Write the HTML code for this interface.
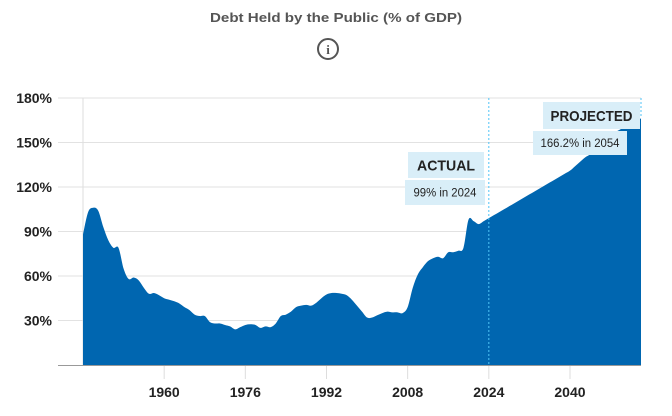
<!DOCTYPE html>
<html><head><meta charset="utf-8">
<style>
body{margin:0;background:#fff;width:672px;height:411px;overflow:hidden;font-family:"Liberation Sans Narrow","Liberation Sans",sans-serif;}
</style></head>
<body>
<svg width="672" height="411" xmlns="http://www.w3.org/2000/svg">
<text x="336" y="22" text-anchor="middle" font-size="13" font-weight="bold" fill="#555" textLength="252" lengthAdjust="spacingAndGlyphs">Debt Held by the Public (% of GDP)</text>
<g>
<circle cx="328" cy="49" r="10" fill="none" stroke="#555" stroke-width="2"/>
<text x="328" y="54" text-anchor="middle" font-size="13" font-weight="bold" fill="#555" font-family="Liberation Serif,serif">i</text>
</g>
<g id="grid"></g>
<g id="area"></g>
<g id="ann"></g>
<g id="xaxis"></g>
</svg>
<script>
const years=[];for(let y=1944;y<=2054;y++)years.push(y);
const debtValues=[88,103,106,104,93,84,79,79,65,58,
59,57,52,48,48.5,47,45,44,43,41.5,
39,37,34,33,33,29,28,28,27,26,
24,25.5,27,27.5,27,25,26,25.5,28,33,
34,36,39,40,40.5,40,42,45,47.5,48.5,
48.5,48,47,44,40,36,32,32,33.5,35,
36,35.5,35.5,35,39,52,61,66,70,72,
73,72,76,76,77,79,98,97,95,97,
99,101,103,105,107,109,111,113,115,117,
119,121,123,125,127,129,131,134,137,140,
142,145,148,151,154,157,159,161,163,165,166.2];
const yTicks=[30,60,90,120,150,180];
const xTicks=[1960,1976,1992,2008,2024,2040];
const NS="http://www.w3.org/2000/svg";
const X=y=>83+(y-1944)*(558/110);
const Y=v=>365-v*(267/180);
function el(t,a,p){const e=document.createElementNS(NS,t);for(const k in a)e.setAttribute(k,a[k]);p.appendChild(e);return e;}
const grid=document.getElementById('grid');
yTicks.forEach(v=>{
 const l=el('line',{x1:58,x2:641,y1:Y(v),y2:Y(v),stroke:'#e2e2e2','stroke-width':1},grid);
 
 
 const t=el('text',{x:52,y:Y(v)+5,'text-anchor':'end','font-size':14,'font-weight':'bold',fill:'#222'},grid);
 t.textContent=v+'%';
 
 
});
el('line',{x1:83,x2:83,y1:98,y2:365,stroke:'#ddd'},grid);
const n=Math.min(years.length,debtValues.length);
const pts=[];for(let i=0;i<n;i++)pts.push([X(years[i]),Y(debtValues[i])]);
let d=`M${pts[0][0]},365 L${pts[0][0]},${pts[0][1]}`;
for(let i=0;i<pts.length-1;i++){
 const p0=pts[Math.max(0,i-1)],p1=pts[i],p2=pts[i+1],p3=pts[Math.min(pts.length-1,i+2)];
 const c1=[p1[0]+(p2[0]-p0[0])/6,p1[1]+(p2[1]-p0[1])/6],c2=[p2[0]-(p3[0]-p1[0])/6,p2[1]-(p3[1]-p1[1])/6];
 d+=` C${c1[0]},${c1[1]} ${c2[0]},${c2[1]} ${p2[0]},${p2[1]}`;
}
d+=` L${pts[pts.length-1][0]},365 Z`;
const area=el('path',{d:d,fill:'#0066b0'},document.getElementById('area'));


const ax=document.getElementById('xaxis');
el('line',{x1:58,x2:641,y1:365.5,y2:365.5,stroke:'#999'},ax);
xTicks.forEach(y=>{
 el('line',{x1:X(y),x2:X(y),y1:366,y2:379,stroke:'#ddd'},ax);
 const t=el('text',{x:X(y),y:397,'text-anchor':'middle','font-size':14,'font-weight':'bold',fill:'#222'},ax);
 t.textContent=y;
 
 
});
const ann=document.getElementById('ann');
el('line',{x1:X(2024),x2:X(2024),y1:98,y2:365,stroke:'#4fc3f7','stroke-dasharray':'2,2'},ann);
el('line',{x1:641,x2:641,y1:98,y2:118,stroke:'#4fc3f7','stroke-dasharray':'2,2'},ann);
function box(x,y,w,h,txt,fs,bold,name,tl){
 const g=el('g',{},ann);
 
 
 el('rect',{x:x,y:y,width:w,height:h,fill:'#d9eef8'},g);
 const t=el('text',{x:x+w/2,y:y+h/2+fs*0.36,'text-anchor':'middle','font-size':fs,'font-weight':bold?'bold':'normal',fill:'#222',textLength:tl,lengthAdjust:'spacingAndGlyphs'},g);
 t.textContent=txt;
}
box(408,152,76,26,'ACTUAL',15,true,'actual-label',58);
box(405,180,80,25,'99% in 2024',11.5,false,'actual-value-label',63);
box(543,102,97,27,'PROJECTED',15,true,'projected-label',82);
box(533,131,94,24,'166.2% in 2054',11.5,false,'projected-value-label',79);
</script>
</body></html>
